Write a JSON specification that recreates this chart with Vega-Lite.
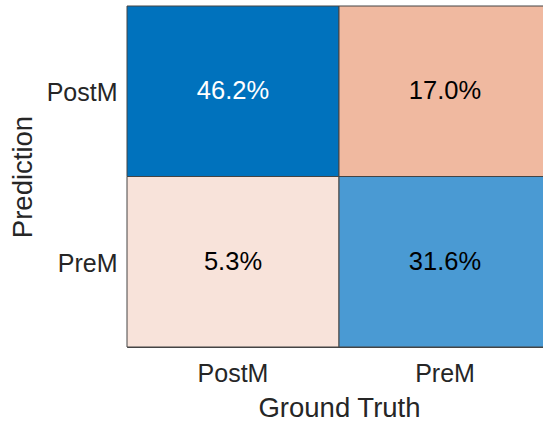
{
  "$schema": "https://vega.github.io/schema/vega-lite/v6.json",
  "autosize": "none",
  "padding": {"left": 127, "top": 6, "right": 0, "bottom": 78},
  "width": 424,
  "height": 341,
  "background": "white",
  "config": {
    "view": {"stroke": "#444444", "strokeWidth": 1},
    "font": "Liberation Sans"
  },
  "data": {
    "values": [
      {"truth": "PostM", "pred": "PostM", "label": "46.2%", "cls": "a", "tc": "w"},
      {"truth": "PreM", "pred": "PostM", "label": "17.0%", "cls": "b", "tc": "k"},
      {"truth": "PostM", "pred": "PreM", "label": "5.3%", "cls": "c", "tc": "k"},
      {"truth": "PreM", "pred": "PreM", "label": "31.6%", "cls": "d", "tc": "k"}
    ]
  },
  "encoding": {
    "x": {
      "field": "truth", "type": "nominal", "sort": ["PostM", "PreM"],
      "scale": {"paddingInner": 0, "paddingOuter": 0},
      "axis": {"title": "Ground Truth", "labelAngle": 0, "ticks": false, "domain": false,
        "labelFontSize": 25, "labelColor": "#262626", "labelPadding": 14, "labelFont": "Liberation Sans",
        "titleFontSize": 27.5, "titleFontWeight": "normal", "titleColor": "#262626", "titlePadding": 8, "titleFont": "Liberation Sans"}
    },
    "y": {
      "field": "pred", "type": "nominal", "sort": ["PostM", "PreM"],
      "scale": {"paddingInner": 0, "paddingOuter": 0},
      "axis": {"title": "Prediction", "ticks": false, "domain": false,
        "labelFontSize": 25, "labelColor": "#262626", "labelPadding": 10, "labelFont": "Liberation Sans", "labelBaseline": "middle", "labelOffset": 2,
        "titleFontSize": 27.5, "titleFontWeight": "normal", "titleColor": "#262626", "titlePadding": 9, "titleFont": "Liberation Sans"}
    }
  },
  "layer": [
    {
      "mark": {"type": "rect", "stroke": "#444444", "strokeWidth": 1},
      "encoding": {
        "color": {"field": "cls", "type": "nominal", "legend": null,
          "scale": {"domain": ["a", "b", "c", "d"], "range": ["#0072BD", "#F0B9A0", "#F8E3DA", "#4A9AD3"]}}
      }
    },
    {
      "mark": {"type": "text", "fontSize": 25.5, "font": "Liberation Sans"},
      "encoding": {
        "text": {"field": "label"},
        "color": {"field": "tc", "type": "nominal", "legend": null,
          "scale": {"domain": ["w", "k"], "range": ["#ffffff", "#000000"]}}
      }
    }
  ],
  "resolve": {"scale": {"color": "independent"}}
}
